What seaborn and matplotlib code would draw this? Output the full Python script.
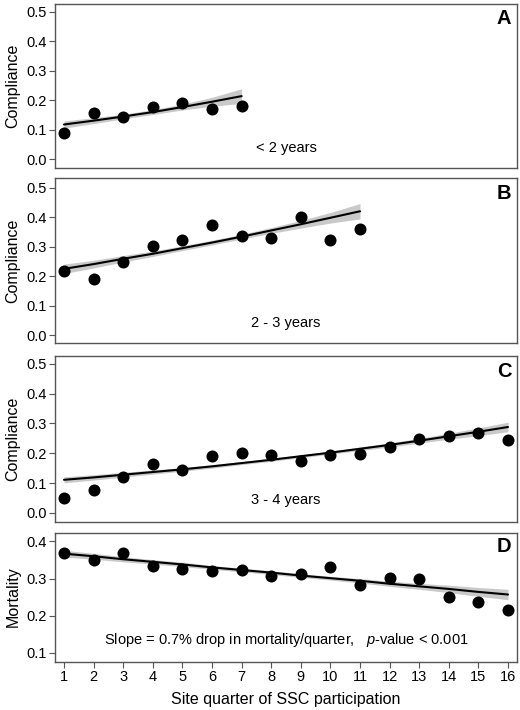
import matplotlib
import matplotlib.pyplot as plt
import seaborn as sns
import pandas as pd

matplotlib.use('Agg')

quarters_a = [1, 2, 3, 4, 5, 6, 7]
obs_a = [0.089, 0.158, 0.145, 0.176, 0.191, 0.170, 0.180]
fit_a = [0.118, 0.131, 0.145, 0.160, 0.177, 0.195, 0.214]
ci_a = [0.012, 0.010, 0.008, 0.008, 0.010, 0.015, 0.025]

quarters_b = [1, 2, 3, 4, 5, 6, 7, 8, 9, 10, 11]
obs_b = [0.217, 0.190, 0.249, 0.302, 0.324, 0.373, 0.337, 0.330, 0.400, 0.323, 0.359]
fit_b = [0.225, 0.241, 0.259, 0.276, 0.295, 0.314, 0.334, 0.355, 0.376, 0.398, 0.420]
ci_b = [0.016, 0.013, 0.011, 0.009, 0.008, 0.008, 0.008, 0.010, 0.013, 0.018, 0.026]

quarters_cd = list(range(1, 17))
obs_c = [0.051, 0.078, 0.122, 0.163, 0.143, 0.191, 0.201, 0.194, 0.173, 0.195,
         0.198, 0.221, 0.247, 0.259, 0.268, 0.245]
fit_c = [0.111, 0.119, 0.128, 0.137, 0.146, 0.156, 0.167, 0.178, 0.190, 0.202,
         0.215, 0.228, 0.242, 0.257, 0.272, 0.288]
ci_c = [0.010, 0.009, 0.008, 0.007, 0.006, 0.006, 0.005, 0.005, 0.005, 0.005,
        0.006, 0.007, 0.008, 0.010, 0.013, 0.016]

obs_d = [0.369, 0.349, 0.368, 0.334, 0.327, 0.319, 0.324, 0.307, 0.312, 0.331,
         0.282, 0.302, 0.298, 0.249, 0.236, 0.214]
fit_d = [0.367, 0.360, 0.352, 0.345, 0.338, 0.330, 0.323, 0.316, 0.308, 0.301,
         0.294, 0.286, 0.279, 0.272, 0.264, 0.257]
ci_d = [0.009, 0.008, 0.007, 0.006, 0.006, 0.005, 0.005, 0.005, 0.005, 0.005,
        0.006, 0.007, 0.008, 0.010, 0.012, 0.014]

comp_ticks = [0.0, 0.1, 0.2, 0.3, 0.4, 0.5]
mort_ticks = [0.1, 0.2, 0.3, 0.4]

sns.set_theme(style='ticks')
plt.rcParams['font.family'] = ['Liberation Sans', 'DejaVu Sans']
plt.rcParams['text.color'] = 'black'
plt.rcParams['axes.labelcolor'] = 'black'
plt.rcParams['xtick.labelcolor'] = 'black'
plt.rcParams['ytick.labelcolor'] = 'black'
plt.rcParams['mathtext.fontset'] = 'custom'
plt.rcParams['mathtext.rm'] = 'Liberation Sans'
plt.rcParams['mathtext.it'] = 'Liberation Sans:italic'

fig = plt.figure(figsize=(5.2, 7.1), dpi=100)

# [left, bottom, width, height] in figure fractions
boxes = [
    [0.106, 0.763, 0.888, 0.232],
    [0.106, 0.517, 0.888, 0.232],
    [0.106, 0.265, 0.888, 0.234],
    [0.106, 0.068, 0.888, 0.182],
]

panels = [
    dict(q=quarters_a, obs=obs_a, fit=fit_a, ci=ci_a, letter='A', label='Compliance',
         ylim=(-0.03, 0.527), ticks=comp_ticks, note='< 2 years', note_y=0.037),
    dict(q=quarters_b, obs=obs_b, fit=fit_b, ci=ci_b, letter='B', label='Compliance',
         ylim=(-0.026, 0.532), ticks=comp_ticks, note='2 - 3 years', note_y=0.040),
    dict(q=quarters_cd, obs=obs_c, fit=fit_c, ci=ci_c, letter='C', label='Compliance',
         ylim=(-0.03, 0.527), ticks=comp_ticks, note='3 - 4 years', note_y=0.044),
    dict(q=quarters_cd, obs=obs_d, fit=fit_d, ci=ci_d, letter='D', label='Mortality',
         ylim=(0.076, 0.424), ticks=mort_ticks, note=None, note_y=0.135),
]

for i, (box, p) in enumerate(zip(boxes, panels)):
    ax = fig.add_axes(box)
    df = pd.DataFrame({'quarter': p['q'], 'obs': p['obs'], 'fit': p['fit'], 'ci': p['ci']})
    df['lo'] = df['fit'] - df['ci']
    df['hi'] = df['fit'] + df['ci']

    ax.fill_between(df['quarter'], df['lo'], df['hi'], color='#c4c4c4', alpha=0.9,
                    linewidth=0, zorder=1)
    sns.lineplot(data=df, x='quarter', y='fit', color='black', linewidth=1.5, ax=ax, zorder=2)
    sns.scatterplot(data=df, x='quarter', y='obs', color='black', s=75, edgecolor='black',
                    linewidth=0, ax=ax, zorder=3)

    ax.set_xlim(0.7, 16.3)
    ax.set_ylim(*p['ylim'])
    ax.set_yticks(p['ticks'])
    ax.set_yticklabels([f'{t:.1f}' for t in p['ticks']], fontsize=10.5)
    ax.set_ylabel(p['label'], fontsize=11.5, labelpad=4)

    for s in ax.spines.values():
        s.set_color('#555555')
        s.set_linewidth(1.0)
    ax.tick_params(axis='y', direction='out', length=4, width=0.8, color='#555555', pad=2)

    if i < 3:
        ax.set_xticks([])
        ax.set_xlabel('')
    else:
        ax.set_xticks(quarters_cd)
        ax.set_xticklabels([str(q) for q in quarters_cd], fontsize=10.5)
        ax.tick_params(axis='x', direction='out', length=4, width=0.8, color='#555555', pad=2)
        ax.set_xlabel('Site quarter of SSC participation', fontsize=11.5, labelpad=6)

    ax.text(0.988, 0.965, p['letter'], transform=ax.transAxes, ha='right', va='top',
            fontsize=14.5, fontweight='bold')

    if p['note']:
        ax.text(8.5, p['note_y'], p['note'], ha='center', va='center', fontsize=10.5)
    else:
        ax.text(8.5, p['note_y'], 'Slope = 0.7% drop in mortality/quarter,   $\\it{p}$-value < 0.001',
                ha='center', va='center', fontsize=10.5)

fig.savefig('out.png', dpi=100)
plt.close(fig)
